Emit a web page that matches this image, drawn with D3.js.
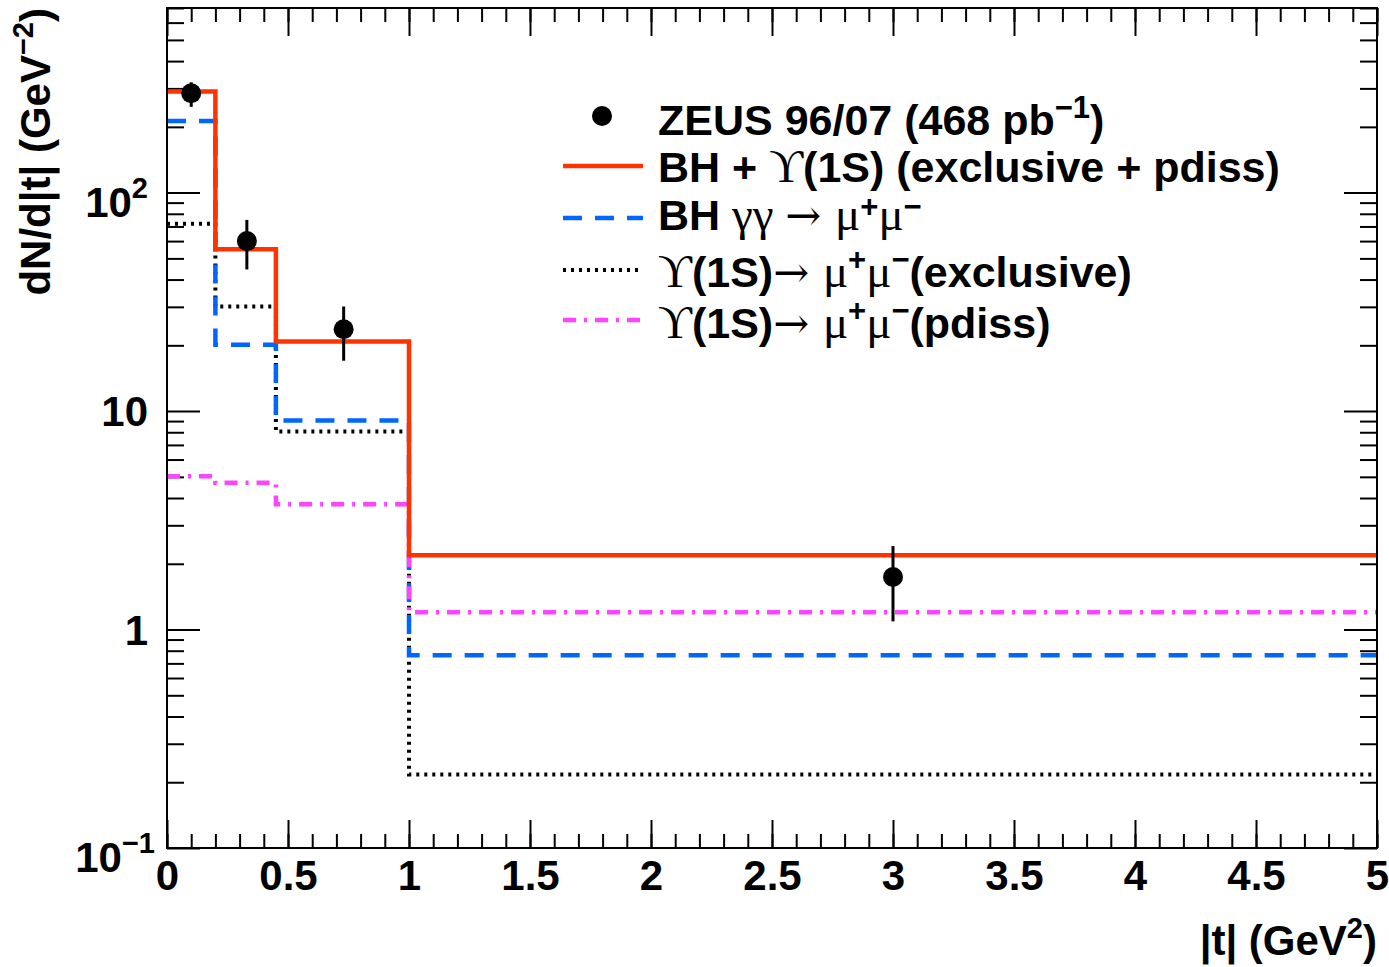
<!DOCTYPE html>
<html>
<head>
<meta charset="utf-8">
<script src="https://cdn.jsdelivr.net/npm/d3@7"></script>
<style>
  body { margin: 0; background: #fff; }
  svg text { font-family: "Liberation Sans", Arial, Helvetica, sans-serif; font-weight: bold; fill: #000; }
  .serif { font-family: "Liberation Serif", "DejaVu Serif", serif; font-weight: normal; font-size: 47px; }
  .arrow { font-family: "DejaVu Serif", serif; font-weight: normal; }
</style>
</head>
<body>
<div id="chart"></div>
<script>
// |t| bins (GeV^2)
const binEdges = [0, 0.2, 0.45, 1, 5];
// MC predictions, dN/d|t| per bin
const totalPred = [290, 55, 20.8, 2.19];
const bhGG = [213, 20.1, 9.06, 0.763];
const upsExcl = [72, 30.1, 8.07, 0.217];
const upsPdiss = [5.03, 4.70, 3.75, 1.20];
// ZEUS data points
const dataT = [0.1, 0.33, 0.73, 3.0];
const dataVal = [285, 60, 23.7, 1.74];
const dataErrUp = [35, 15, 6.4, 0.67];
const dataErrDown = [38, 15.5, 6.7, 0.65];
// axis ticks
const xTickValues = [0, 0.5, 1, 1.5, 2, 2.5, 3, 3.5, 4, 4.5, 5];
const yTickValues = [0.1, 1, 10, 100];
const yTickBase = ["10", "1", "10", "10"];
const yTickSup = ["\u22121", "", "", "2"];

const W = 1389, H = 967;
const pL = 167, pR = 1377, pT = 8, pB = 848;

const svg = d3.select('#chart').append('svg').attr('width', W).attr('height', H);

const x = d3.scaleLinear().domain([0, 5]).range([pL, pR]);
const y = d3.scaleLog().domain([0.1, 700]).range([pB, pT]);

// ticks
const xMinor = d3.range(0, 50.5, 1).map(d => d / 10);
const yMinor = [];
[0.1, 1, 10, 100].forEach(dec => { for (let k = 2; k <= 9; k++) { if (k * dec <= 700) yMinor.push(k * dec); } });

const tickStyle = g => g.call(g => g.select('.domain').remove())
  .call(g => g.selectAll('line').attr('stroke', '#000').attr('stroke-width', 2));

svg.append('g').attr('transform', `translate(0,${pB})`)
  .call(d3.axisBottom(x).tickValues(xMinor).tickSize(-14).tickFormat('')).call(tickStyle);
svg.append('g').attr('transform', `translate(0,${pB})`)
  .call(d3.axisBottom(x).tickValues(xTickValues).tickSize(-28).tickPadding(12).tickFormat(d3.format('~g'))).call(tickStyle)
  .selectAll('text').attr('font-size', 42).attr('fill', '#000');
svg.append('g').attr('transform', `translate(0,${pT})`)
  .call(d3.axisTop(x).tickValues(xMinor).tickSize(-14).tickFormat('')).call(tickStyle);
svg.append('g').attr('transform', `translate(0,${pT})`)
  .call(d3.axisTop(x).tickValues(xTickValues).tickSize(-28).tickFormat('')).call(tickStyle);

svg.append('g').attr('transform', `translate(${pL},0)`)
  .call(d3.axisLeft(y).tickValues(yMinor).tickSize(-17).tickFormat('')).call(tickStyle);
svg.append('g').attr('transform', `translate(${pL},0)`)
  .call(d3.axisLeft(y).tickValues(yTickValues).tickSize(-33).tickFormat('')).call(tickStyle);
svg.append('g').attr('transform', `translate(${pR},0)`)
  .call(d3.axisRight(y).tickValues(yMinor).tickSize(-17).tickFormat('')).call(tickStyle);
svg.append('g').attr('transform', `translate(${pR},0)`)
  .call(d3.axisRight(y).tickValues(yTickValues).tickSize(-33).tickFormat('')).call(tickStyle);

// y tick labels with exponents
yTickValues.forEach((v, i) => {
  const hasSup = yTickSup[i] !== "";
  const t = svg.append('text').attr('text-anchor', 'end').attr('font-size', 42)
    .attr('x', i === 0 ? 155 : 148)
    .attr('y', y(v) + (hasSup ? 24 : 15));
  t.append('tspan').text(yTickBase[i]);
  if (hasSup) t.append('tspan').attr('font-size', 29).attr('dy', -19).text(yTickSup[i]);
});

// histograms
const stepLine = d3.line().x(d => x(d[0])).y(d => y(d[1])).curve(d3.curveStepAfter);
function histPoints(vals) {
  const pts = vals.map((v, i) => [binEdges[i], v]);
  pts.push([binEdges[binEdges.length - 1], vals[vals.length - 1]]);
  return pts;
}
const sTotal = { vals: totalPred, color: '#ff3300', w: 4.5, dash: null };
const sBH = { vals: bhGG, color: '#0066ff', w: 4.5, dash: '19,13' };
const sExcl = { vals: upsExcl, color: '#000000', w: 4, dash: '3,5' };
const sPdiss = { vals: upsPdiss, color: '#ff44ff', w: 4.5, dash: '13,8,3,8' };
[sExcl, sBH, sPdiss, sTotal].forEach(s => {
  svg.append('path').attr('d', stepLine(histPoints(s.vals)))
    .attr('fill', 'none').attr('stroke', s.color).attr('stroke-width', s.w)
    .attr('stroke-dasharray', s.dash);
});

// data points
const pts = svg.append('g');
dataT.forEach((t, i) => {
  pts.append('line').attr('x1', x(t)).attr('x2', x(t))
    .attr('y1', y(dataVal[i] + dataErrUp[i])).attr('y2', y(dataVal[i] - dataErrDown[i]))
    .attr('stroke', '#000').attr('stroke-width', 3);
  pts.append('circle').attr('cx', x(t)).attr('cy', y(dataVal[i])).attr('r', 10).attr('fill', '#000');
});

// frame
svg.append('rect').attr('x', pL).attr('y', pT).attr('width', pR - pL).attr('height', pB - pT)
  .attr('fill', 'none').attr('stroke', '#000').attr('stroke-width', 2);

// axis titles
const yt = svg.append('text').attr('transform', `translate(50,${pT}) rotate(-90)`)
  .attr('text-anchor', 'end').attr('font-size', 42);
yt.append('tspan').text('dN/d|t| (GeV');
yt.append('tspan').attr('font-size', 29).attr('dy', -17).text('\u22122');
yt.append('tspan').attr('dy', 17).text(')');

const xt = svg.append('text').attr('x', pR).attr('y', 955).attr('text-anchor', 'end').attr('font-size', 42);
xt.append('tspan').text('|t| (GeV');
xt.append('tspan').attr('font-size', 29).attr('dy', -17).text('2');
xt.append('tspan').attr('dy', 17).text(')');

// legend
const lg = svg.append('g');
const lx0 = 563, lx1 = 643, tx = 658;
const rowY = [116, 166, 218, 270, 320];
const baseY = [135, 182, 230, 287, 338];
lg.append('circle').attr('cx', 602).attr('cy', rowY[0]).attr('r', 10).attr('fill', '#000');
[sTotal, sBH, sExcl, sPdiss].forEach((s, i) => {
  lg.append('line').attr('x1', lx0).attr('x2', lx1).attr('y1', rowY[i + 1]).attr('y2', rowY[i + 1])
    .attr('stroke', s.color).attr('stroke-width', s.w).attr('stroke-dasharray', s.dash);
});
function legendText(i, parts) {
  const t = lg.append('text').attr('x', tx).attr('y', baseY[i]).attr('font-size', 43);
  parts.forEach(p => {
    const sp = t.append('tspan').text(p.s);
    if (p.cls) sp.attr('class', p.cls);
    if (p.sup) sp.attr('font-size', 31).attr('dy', p.sup);
    if (p.down) sp.attr('dy', p.down);
  });
}
legendText(0, [{ s: 'ZEUS 96/07 (468 pb' }, { s: '\u22121', sup: -17 }, { s: ')', down: 17 }]);
legendText(1, [{ s: 'BH + ' }, { s: '\u03d2', cls: 'serif' }, { s: '(1S) (exclusive + pdiss)' }]);
legendText(2, [{ s: 'BH ' }, { s: '\u03b3\u03b3 ', cls: 'serif' }, { s: '\u2192 ', cls: 'arrow' }, { s: '\u03bc', cls: 'serif' },
  { s: '+', sup: -13 }, { s: '\u03bc', cls: 'serif', down: 13 }, { s: '\u2212', sup: -13 }]);
legendText(3, [{ s: '\u03d2', cls: 'serif' }, { s: '(1S)' }, { s: '\u2192 ', cls: 'arrow' }, { s: '\u03bc', cls: 'serif' },
  { s: '+', sup: -17 }, { s: '\u03bc', cls: 'serif', down: 17 }, { s: '\u2212', sup: -17 }, { s: '(exclusive)', down: 17 }]);
legendText(4, [{ s: '\u03d2', cls: 'serif' }, { s: '(1S)' }, { s: '\u2192 ', cls: 'arrow' }, { s: '\u03bc', cls: 'serif' },
  { s: '+', sup: -17 }, { s: '\u03bc', cls: 'serif', down: 17 }, { s: '\u2212', sup: -17 }, { s: '(pdiss)', down: 17 }]);
</script>
</body>
</html>
